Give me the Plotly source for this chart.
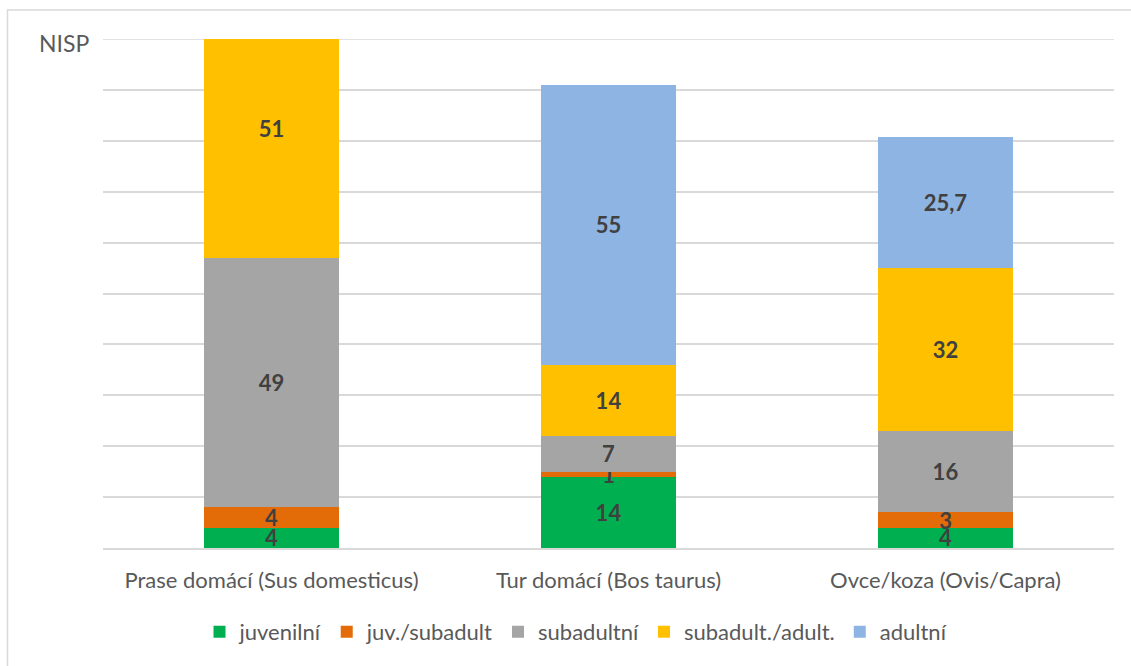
import plotly.graph_objects as go

categories = ["Prase domácí (Sus domesticus)", "Tur domácí (Bos taurus)", "Ovce/koza (Ovis/Capra)"]
series_names = ["juvenilní", "juv./subadult", "subadultní", "subadult./adult.", "adultní"]
juvenilni = [4, 14, 4]
juv_subadult = [4, 1, 3]
subadultni = [49, 7, 16]
subadult_adult = [51, 14, 32]
adultni = [None, 55, 25.7]
series_values = [juvenilni, juv_subadult, subadultni, subadult_adult, adultni]
colors = ["#00B050", "#E36C09", "#A5A5A5", "#FFC000", "#8EB4E3"]
y_max = 100


def fmt(v):
    if v is None:
        return ""
    return ("%g" % v).replace(".", ",")


fig = go.Figure()
for name, vals, col in zip(series_names, series_values, colors):
    fig.add_trace(go.Bar(
        name=name, x=categories, y=vals,
        marker=dict(color=col, line=dict(width=0)),
        text=[fmt(v) for v in vals],
        textposition="inside", insidetextanchor="middle",
        constraintext="none", textangle=0,
        textfont=dict(family="Lato", size=22, color="#404040", weight="bold"),
        hoverinfo="skip",
    ))

L, T, R, B = 103, 39, 17, 118
PW, PH = 1131 - L - R, 666 - T - B

def px(x):
    return (x - L) / PW

def py(y):
    return (666 - B - y) / PH

fig.update_layout(
    barmode="stack", bargap=0.6,
    width=1131, height=666,
    margin=dict(l=L, r=R, t=T, b=B, autoexpand=False),
    paper_bgcolor="white", plot_bgcolor="white",
    font=dict(family="Lato", size=22, color="#595959"),
    xaxis=dict(showgrid=False, showline=True, linecolor="#D9D9D9", linewidth=1.5,
               ticks="", tickfont=dict(size=22, color="#595959"), ticklabelstandoff=12),
    yaxis=dict(range=[0, y_max], dtick=10, showticklabels=False, showgrid=True,
               gridcolor="#D9D9D9", gridwidth=1.5, zeroline=False, showline=False),
    legend=dict(orientation="h", x=px(576), xanchor="center", y=py(632), yanchor="middle",
                font=dict(size=22, color="#595959"), traceorder="normal",
                itemwidth=30),
    showlegend=True,
    annotations=[dict(text="NISP", x=px(64), y=py(43), xref="paper", yref="paper",
                      showarrow=False, font=dict(size=23, color="#595959"),
                      xanchor="center", yanchor="middle")],
    shapes=[
        dict(type="rect", xref="paper", yref="paper",
             x0=px(7.5), x1=px(1140), y0=py(10), y1=py(675),
             line=dict(color="#D9D9D9", width=1.5), fillcolor="rgba(0,0,0,0)", layer="below"),
        dict(type="line", xref="paper", yref="y", x0=0, x1=1, y0=y_max, y1=y_max,
             line=dict(color="#D9D9D9", width=1.5), layer="below"),
    ],
)

fig.write_html("out.html", config={"displayModeBar": False},
               post_script="document.body.style.margin='0';document.body.style.overflow='hidden';")
